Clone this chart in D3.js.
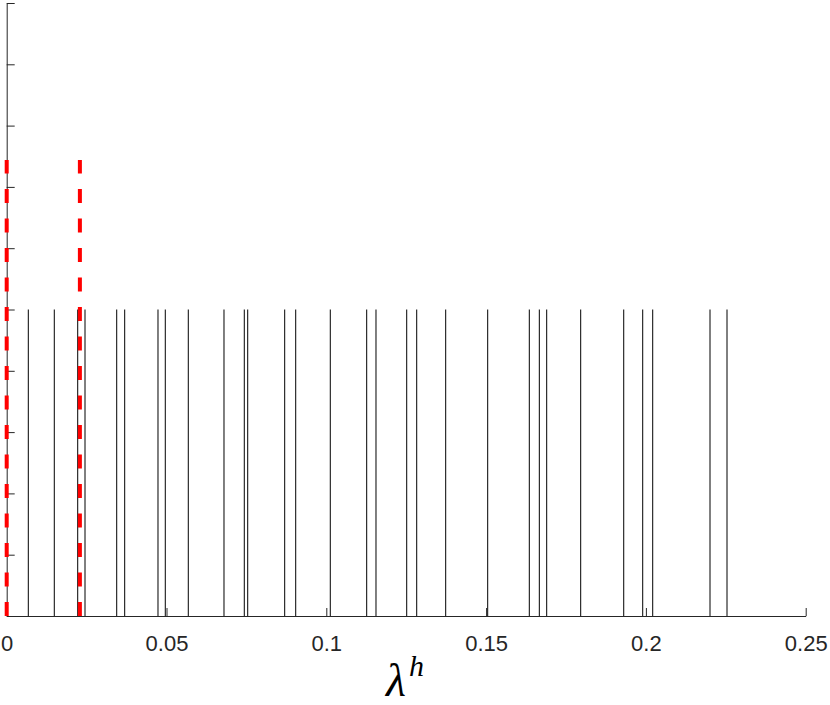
<!DOCTYPE html>
<html>
<head>
<meta charset="utf-8">
<script src="https://cdn.jsdelivr.net/npm/d3@7"></script>
<style>
  body { margin: 0; background: #fff; }
  svg { display: block; }
</style>
</head>
<body>
<div id="root"></div>
<script>
const width = 830;
const height = 705;

// Data

const lambdaH = [
  0.00676, 0.01489, 0.02222, 0.0245, 0.03442, 0.03692, 0.04734, 0.04962,
  0.05682, 0.06799, 0.07434, 0.07541, 0.08698, 0.09043, 0.10125, 0.11264,
  0.11555, 0.12516, 0.12829, 0.13736, 0.1505, 0.16352, 0.16665, 0.16896,
  0.1796, 0.19306, 0.199, 0.20213, 0.22006, 0.22538,
];
const lambdaHeight = 0.5;

const markers = [0, 0.0229];
const markerHeight = 0.744;

const xTicks = [0, 0.05, 0.1, 0.15, 0.2, 0.25];
const xTickLabels = ['0', '0.05', '0.1', '0.15', '0.2', '0.25'];
const yTicks = [0, 0.1, 0.2, 0.3, 0.4, 0.5, 0.6, 0.7, 0.8, 0.9, 1];

// Scales

const x = d3.scaleLinear().domain([0, 0.25]).range([6.7, 805.7]);
const y = d3.scaleLinear().domain([0, 1]).range([616, 3]);

const svg = d3
  .select('#root')
  .append('svg')
  .attr('width', width)
  .attr('height', height);

// Spikes

svg
  .append('g')
  .selectAll('line')
  .data(lambdaH)
  .join('line')
  .attr('x1', (d) => x(d))
  .attr('x2', (d) => x(d))
  .attr('y1', y(0))
  .attr('y2', y(lambdaHeight))
  .attr('stroke', '#000')
  .attr('stroke-width', 1);

// Axes

const axisColor = '#262626';

const xAxis = svg
  .append('g')
  .attr('transform', `translate(0,${y(0)})`)
  .call(
    d3
      .axisBottom(x)
      .tickValues(xTicks)
      .tickFormat((d, i) => xTickLabels[i])
      .tickSizeInner(-8)
      .tickSizeOuter(0)
      .tickPadding(19)
  );

const yAxis = svg
  .append('g')
  .attr('transform', `translate(${x(0)},0)`)
  .call(
    d3
      .axisLeft(y)
      .tickValues(yTicks)
      .tickFormat('')
      .tickSizeInner(-8)
      .tickSizeOuter(0)
  );

[xAxis, yAxis].forEach((g) => {
  g.select('.domain').attr('stroke', axisColor);
  g.selectAll('.tick line').attr('stroke', axisColor);
  g.selectAll('.tick text')
    .attr('fill', axisColor)
    .style('font-family', '"Liberation Sans", Arial, sans-serif')
    .style('font-size', '22px');
});

// Red dashed markers

svg
  .append('g')
  .selectAll('line')
  .data(markers)
  .join('line')
  .attr('x1', (d) => x(d))
  .attr('x2', (d) => x(d))
  .attr('y1', y(0))
  .attr('y2', y(markerHeight))
  .attr('stroke', '#ff0000')
  .attr('stroke-width', 4)
  .attr('stroke-dasharray', '14,15.5');

// X label

const label = svg
  .append('text')
  .attr('x', 405)
  .attr('y', 696)
  .attr('text-anchor', 'middle')
  .style('font-family', '"Liberation Serif", "Times New Roman", serif')
  .style('font-style', 'italic')
  .attr('fill', '#000');

label.append('tspan').style('font-size', '46px').text('λ');
label
  .append('tspan')
  .attr('dx', 3)
  .attr('dy', -20)
  .style('font-size', '30px')
  .text('h');
</script>
</body>
</html>
